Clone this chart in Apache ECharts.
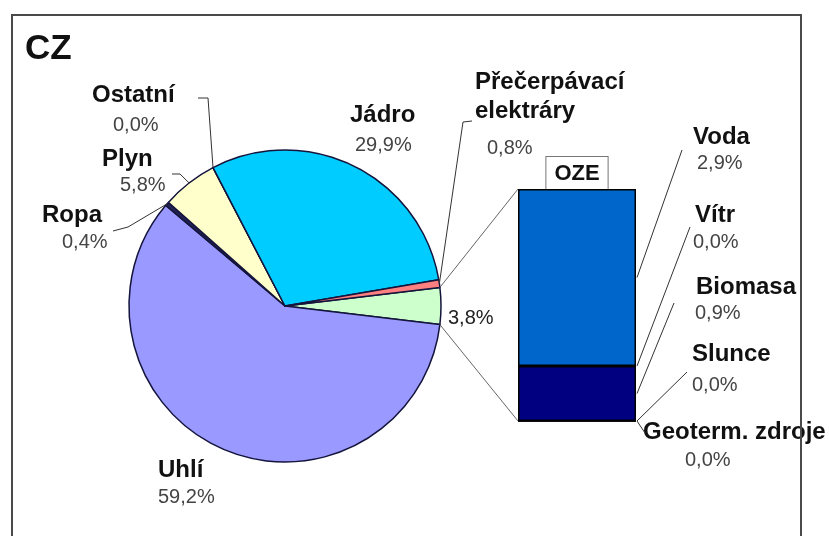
<!DOCTYPE html>
<html><head><meta charset="utf-8">
<script src="https://cdn.jsdelivr.net/npm/echarts@6/dist/echarts.min.js"></script>
<style>html,body{margin:0;padding:0;background:#fff}#c{width:829px;height:536px}</style>
</head><body><div id="c"></div>
<script>
// ---- DATA ----
const titleText = 'CZ';
const pieNames = ['Uhlí', 'Jádro', 'Přečerpávací\nelektráry', 'OZE', 'Ropa', 'Plyn', 'Ostatní'];
const pieValues = [59.2, 29.9, 0.8, 3.8, 0.4, 5.8, 0.0];
const barCategories = ['OZE'];
const ozeNames = ['Voda', 'Vítr', 'Biomasa', 'Slunce', 'Geoterm. zdroje'];
const ozeValues = [2.9, 0.0, 0.9, 0.0, 0.0];

// ---- STYLE / LAYOUT ----
const FONT = '"Liberation Sans", Arial, sans-serif';
const pieColors = ['#9999FF', '#00CCFF', '#FF8080', '#CCFFCC', '#222255', '#FFFFCC', '#FFFFFF'];
const ozeColors = ['#0066CC', '#3366FF', '#000080', '#FFCC00', '#9966CC'];
const pieOrder = [3, 0, 4, 5, 6, 1, 2]; // clockwise from the OZE slice
const PIE_C = [285, 306], PIE_R = 156;
const GRID = {left: 518, top: 189, width: 118, height: 232};
// label layout: nx,ny = name left / centre y ; vx,vy = value left / centre y
const pieLab = [
  {nx: 158, ny: 470, vx: 158, vy: 497},
  {nx: 350, ny: 115, vx: 355, vy: 145},
  {nx: 475, ny: 82, vx: 487, vy: 148, nlh: 29},
  {vx: 448, vy: 318, valueOnly: true},
  {nx: 42, ny: 215, vx: 62, vy: 242},
  {nx: 102, ny: 159, vx: 120, vy: 185},
  {nx: 92, ny: 95, vx: 113, vy: 125}
];
const barLab = [
  {nx: 693, ny: 137, vx: 697, vy: 163},
  {nx: 695, ny: 215, vx: 693, vy: 242},
  {nx: 696, ny: 287, vx: 695, vy: 313},
  {nx: 692, ny: 354, vx: 692, vy: 385},
  {nx: 643, ny: 432, vx: 685, vy: 460}
];
const pieLeaderEnds = {2: [[472, 121], [463, 122]], 4: [[113, 231], [128, 227]], 5: [[172, 174], [180, 174]], 6: [[198, 98], [208, 98]]};
const barLeaderEnds = [[[682, 150]], [[690, 227]], [[674, 303]], [[687, 372]], [[645, 433]]];

function fmt(v) { return v.toFixed(1).replace('.', ',') + '%'; }

function buildLabel(name, value, L, key) {
  const nlh = L.nlh || 26;
  const rich = {};
  if (L.valueOnly) {
    rich['v' + key] = {fontFamily: FONT, fontSize: 20, color: '#222', lineHeight: 24};
    return {text: '{v' + key + '|' + fmt(value) + '}', rich, x: L.vx, y: L.vy - 12};
  }
  const lines = name.split('\n').length;
  const x0 = Math.min(L.nx, L.vx);
  const lastC = L.ny + (lines - 1) * nlh;
  const L2 = 2 * (L.vy - lastC - nlh / 2);
  rich['n' + key] = {fontFamily: FONT, fontSize: 24, fontWeight: 'bold', color: '#111', lineHeight: nlh, padding: [0, 0, 0, L.nx - x0]};
  rich['v' + key] = {fontFamily: FONT, fontSize: 20, color: '#444', lineHeight: L2, padding: [0, 0, 0, L.vx - x0]};
  return {text: '{n' + key + '|' + name + '}\n{v' + key + '|' + fmt(value) + '}', rich, x: x0, y: L.ny - nlh / 2};
}

// pie data
const pieLabels = pieNames.map((n, i) => buildLabel(n, pieValues[i], pieLab[i], 'p' + i));
const pieRich = {};
pieLabels.forEach(l => Object.assign(pieRich, l.rich));
const pieTotal = pieValues.reduce((a, b) => a + b, 0);
const startAngle = pieValues[3] / pieTotal * 180;
const pieData = pieOrder.map(i => ({
  name: pieNames[i], value: pieValues[i], orig: i,
  itemStyle: {color: pieColors[i]}
}));

// bar series (stack bottom-up = reverse of legend order)
const barSeries = [];
for (let k = ozeNames.length - 1; k >= 0; k--) {
  const lab = buildLabel(ozeNames[k], ozeValues[k], barLab[k], 'b' + k);
  barSeries.push({
    type: 'bar', name: ozeNames[k], stack: 'oze', data: [ozeValues[k]],
    barWidth: '100%', silent: true,
    itemStyle: {color: ozeColors[k], borderColor: '#000', borderWidth: 1.5},
    label: {show: true, formatter: () => lab.text, rich: lab.rich, position: 'right'},
    labelLayout: () => ({x: lab.x, y: lab.y, align: 'left', verticalAlign: 'top'})
  });
}

const chart = echarts.init(document.getElementById('c'));
chart.setOption({
  animation: false,
  backgroundColor: '#fff',
  title: {text: titleText, left: 20, top: 27, textStyle: {fontFamily: FONT, fontSize: 35, fontWeight: 'bold', color: '#111'}},
  grid: GRID,
  xAxis: {type: 'category', data: barCategories, position: 'top',
    axisLine: {show: false}, axisTick: {show: false}, splitLine: {show: false},
    axisLabel: {margin: 0, fontFamily: FONT, fontSize: 22, fontWeight: 'bold', color: '#111',
      backgroundColor: '#fff', borderColor: '#777', borderWidth: 1, padding: [4, 8, 3, 8], lineHeight: 25}},
  yAxis: {type: 'value', min: 0, max: ozeValues.reduce((a, b) => a + b, 0), show: false},
  series: [{
    type: 'pie', center: PIE_C, radius: PIE_R, startAngle: startAngle, clockwise: true,
    avoidLabelOverlap: false, silent: true, data: pieData,
    itemStyle: {borderColor: '#14143c', borderWidth: 1.5},
    label: {show: true, formatter: p => pieLabels[p.data.orig].text, rich: pieRich},
    labelLine: {show: false},
    labelLayout: p => {
      const l = pieLabels[pieOrder[p.dataIndex]];
      return {x: l.x, y: l.y, align: 'left', verticalAlign: 'top'};
    }
  }].concat(barSeries)
});

// ---- geometry-derived decorations ----
function piePt(deg) {
  const a = deg * Math.PI / 180;
  return [PIE_C[0] + PIE_R * Math.cos(a), PIE_C[1] - PIE_R * Math.sin(a)];
}
const midAngle = {};
let cum = 0;
pieOrder.forEach(i => {
  const a0 = startAngle - cum / pieTotal * 360;
  midAngle[i] = a0 - pieValues[i] / pieTotal * 180;
  cum += pieValues[i];
});
const graphics = [];
graphics.push({type: 'rect', shape: {x: 12, y: 15, width: 789, height: 540}, style: {fill: null, stroke: '#4a4a4a', lineWidth: 2}, z: 100});
// OZE connector lines
const yTop = chart.convertToPixel({yAxisIndex: 0}, ozeValues.reduce((a, b) => a + b, 0));
const yBot = chart.convertToPixel({yAxisIndex: 0}, 0);
const barL = GRID.left, barR = GRID.left + GRID.width;
graphics.push({type: 'polyline', shape: {points: [piePt(startAngle), [barL, yTop]]}, style: {stroke: '#666', lineWidth: 1, fill: null}, z: 50});
graphics.push({type: 'polyline', shape: {points: [piePt(-startAngle), [barL, yBot]]}, style: {stroke: '#666', lineWidth: 1, fill: null}, z: 50});
// pie leaders
Object.keys(pieLeaderEnds).forEach(k => {
  const pts = pieLeaderEnds[k].concat([piePt(midAngle[k])]);
  graphics.push({type: 'polyline', shape: {points: pts}, style: {stroke: '#333', lineWidth: 1, fill: null}, z: 50});
});
// bar leaders
let acc = 0;
const segMid = new Array(ozeNames.length);
for (let k = ozeNames.length - 1; k >= 0; k--) {
  segMid[k] = acc + ozeValues[k] / 2;
  acc += ozeValues[k];
}
ozeNames.forEach((n, k) => {
  const y = chart.convertToPixel({yAxisIndex: 0}, segMid[k]);
  const pts = barLeaderEnds[k].concat([[barR + 1, y]]);
  graphics.push({type: 'polyline', shape: {points: pts}, style: {stroke: '#333', lineWidth: 1, fill: null}, z: 50});
});
chart.setOption({graphic: graphics});
</script>
</body></html>
